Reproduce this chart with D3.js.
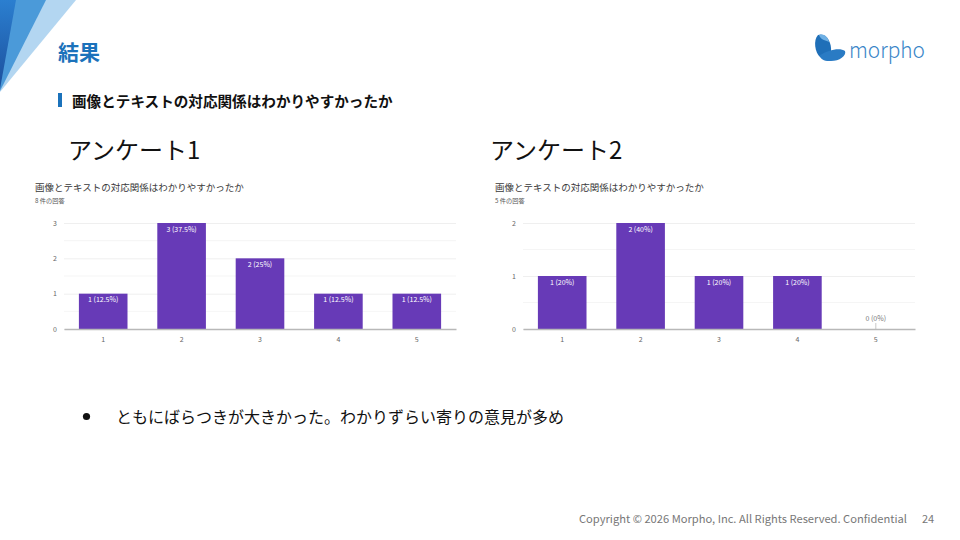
<!DOCTYPE html>
<html><head><meta charset="utf-8">
<script src="https://cdn.jsdelivr.net/npm/d3@7"></script>
<style>
html,body{margin:0;padding:0;background:#fff;}
svg{display:block;}
text{font-family:"Noto Sans CJK JP","Noto Sans",sans-serif;}
</style></head>
<body>
<script>
// ---- data ----
const categories = ["1","2","3","4","5"];
const survey1Values = [1,3,2,1,1];
const survey2Values = [1,2,1,1,0];
const survey1Ticks = [0,1,2,3];
const survey2Ticks = [0,1,2];
const survey1Count = "8 件の回答";
const survey2Count = "5 件の回答";
const chartTitle = "画像とテキストの対応関係はわかりやすかったか";
const surveyNames = ["アンケート1","アンケート2"];

const W = 960, H = 540;
const svg = d3.select("body").append("svg").attr("width", W).attr("height", H);

// corner decoration
const defs = svg.append("defs");
const g1 = defs.append("linearGradient").attr("id","darkg").attr("x1",0).attr("y1",0).attr("x2",0).attr("y2",1);
g1.append("stop").attr("offset","0%").attr("stop-color","#2b7fd0");
g1.append("stop").attr("offset","100%").attr("stop-color","#1c4f9c");
svg.append("polygon").attr("points","0,0 76,0 0,92").attr("fill","#b3d6f1");
svg.append("polygon").attr("points","0,0 46,0 0,91").attr("fill","#4b9ad9");
svg.append("polygon").attr("points","0,0 16,0 0,89").attr("fill","url(#darkg)");

// heading
svg.append("text").attr("x",58).attr("y",60).attr("font-size",21).attr("font-weight",700)
  .attr("fill","#1b72bb").text("結果");
svg.append("rect").attr("x",58).attr("y",93).attr("width",4).attr("height",14).attr("fill","#1b72bb");
svg.append("text").attr("x",72).attr("y",107).attr("font-size",14.6).attr("font-weight",700)
  .attr("fill","#111").text(chartTitle);

// logo
const logo = svg.append("g");
logo.append("path").attr("d","M818,35 C826,32 832,42 831,52 C830,58 824,60 820,57 C815,53 813,40 818,35 Z").attr("fill","#1f6fb8");
logo.append("path").attr("d","M819,35 C824,33 828,37 829,42 C825,40 821,40 819,35 Z").attr("fill","#6fb0e4");
logo.append("path").attr("d","M820,55 C828,50 840,47 845,51 C847,56 838,62 829,61 C824,61 820,59 820,55 Z").attr("fill","#2a7bc4");
logo.append("text").attr("x",849).attr("y",58).attr("font-size",22).attr("font-family","Lato, 'Noto Sans', sans-serif")
  .attr("font-weight",300).attr("fill","#3a86c8").attr("textLength",76).attr("lengthAdjust","spacingAndGlyphs").text("morpho");

// survey headings
svg.append("text").attr("x",68).attr("y",159).attr("font-size",24).attr("fill","#111").text(surveyNames[0]);
svg.append("text").attr("x",490).attr("y",159).attr("font-size",24).attr("fill","#111").text(surveyNames[1]);

function drawChart(opts){
  const {left, right, top, bottom, titleX, values, ticks, count} = opts;
  const g = svg.append("g");
  g.append("text").attr("x",titleX).attr("y",191).attr("font-size",9.5).attr("fill","#3a3a3a").text(chartTitle);
  g.append("text").attr("x",titleX).attr("y",203).attr("font-size",6.2).attr("fill","#555").text(count);

  const x = d3.scaleBand().domain(categories).range([left,right]).paddingInner(0.38).paddingOuter(0.19);
  const y = d3.scaleLinear().domain([0, d3.max(ticks)]).range([bottom, top]);
  const total = d3.sum(values);
  const fmt = d3.format(".1~f");

  // minor gridlines
  const minor = d3.range(0, d3.max(ticks), 0.5).filter(v => v % 1 !== 0);
  g.selectAll(".minor").data(minor).join("line")
    .attr("x1",left).attr("x2",right).attr("y1",d=>y(d)).attr("y2",d=>y(d))
    .attr("stroke","#f3f3f3").attr("stroke-width",0.8);
  // major gridlines via axis
  const yAxis = d3.axisLeft(y).tickValues(ticks).tickSize(-(right-left)).tickFormat(d3.format("d"));
  const ya = g.append("g").attr("transform",`translate(${left},0)`).call(yAxis);
  ya.attr("font-family","Roboto, Arial, sans-serif");
  ya.select(".domain").remove();
  ya.selectAll(".tick line").attr("stroke","#ebebeb").attr("stroke-width",0.8);
  ya.selectAll(".tick text").attr("x",-7).attr("font-size",7).attr("fill","#666");

  // bars
  g.selectAll(".bar").data(values).join("rect")
    .attr("x",(d,i)=>x(categories[i])).attr("width",x.bandwidth())
    .attr("y",d=>y(d)).attr("height",d=>y(0)-y(d)).attr("fill","#673ab7");

  // labels
  g.selectAll(".lbl").data(values).join("text")
    .attr("x",(d,i)=>x(categories[i])+x.bandwidth()/2)
    .attr("y",d=> d>0 ? y(d)+8.5 : y(0)-8)
    .attr("text-anchor","middle").attr("font-size",7)
    .attr("font-family","Roboto, Arial, sans-serif")
    .attr("fill",d=> d>0 ? "#fff" : "#777")
    .text(d=>`${d} (${fmt(d/total*100)}%)`);
  // stub line for zero bars
  g.selectAll(".stub").data(values.map((v,i)=>({v,i})).filter(o=>o.v===0)).join("line")
    .attr("x1",o=>x(categories[o.i])+x.bandwidth()/2).attr("x2",o=>x(categories[o.i])+x.bandwidth()/2)
    .attr("y1",y(0)-6).attr("y2",y(0)).attr("stroke","#bbb").attr("stroke-width",0.8);

  // x axis
  const xAxis = d3.axisBottom(x).tickSize(0).tickPadding(8);
  const xa = g.append("g").attr("transform",`translate(0,${bottom})`).call(xAxis);
  xa.attr("font-family","Roboto, Arial, sans-serif");
  xa.select(".domain").attr("stroke","#b8b8b8").attr("stroke-width",1.6);
  xa.selectAll(".tick text").attr("font-size",7).attr("fill","#666");
}

drawChart({left:64, right:456, top:223, bottom:329, titleX:35, values:survey1Values, ticks:survey1Ticks, count:survey1Count});
drawChart({left:523, right:915, top:223, bottom:329, titleX:495, values:survey2Values, ticks:survey2Ticks, count:survey2Count});

// bullet
svg.append("circle").attr("cx",86.5).attr("cy",416.5).attr("r",3.6).attr("fill","#111");
svg.append("text").attr("x",116).attr("y",423).attr("font-size",16).attr("fill","#111")
  .text("ともにばらつきが大きかった。わかりずらい寄りの意見が多め");

// footer
svg.append("text").attr("x",579).attr("y",523).attr("font-size",11).attr("fill","#777")
  .attr("font-family","Roboto, 'Noto Sans', sans-serif").attr("textLength",328).attr("lengthAdjust","spacingAndGlyphs")
  .text("Copyright © 2026 Morpho, Inc. All Rights Reserved. Confidential");
svg.append("text").attr("x",922).attr("y",523).attr("font-size",11).attr("fill","#777")
  .attr("font-family","Roboto, 'Noto Sans', sans-serif").text("24");
</script>
</body></html>
